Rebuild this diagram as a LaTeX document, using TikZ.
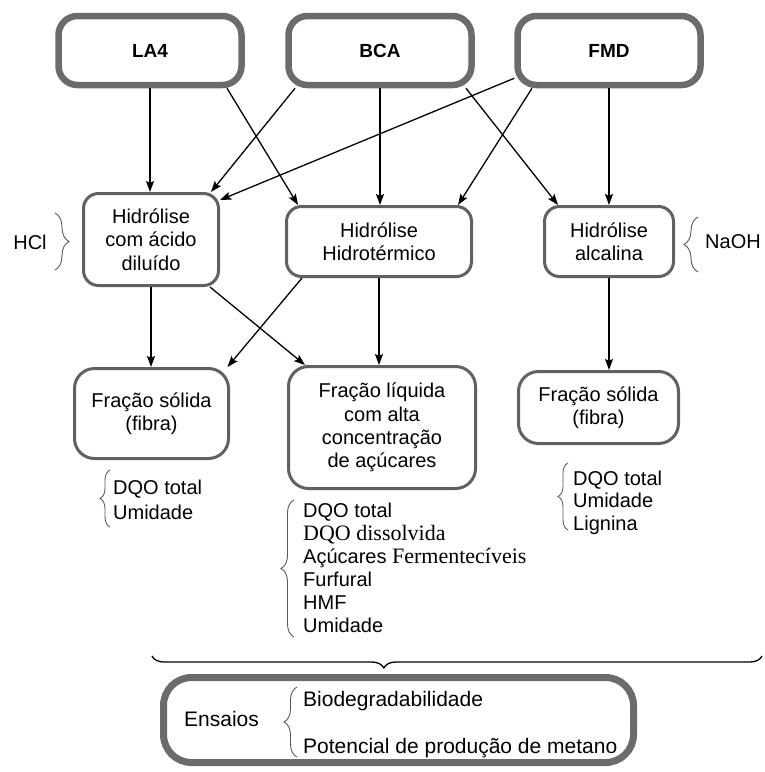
\documentclass[tikz,border=0pt]{standalone}
\usepackage{fontspec}
\setmainfont{Liberation Sans}
\newfontfamily\serifa{Liberation Serif}
\usetikzlibrary{arrows.meta,decorations.pathreplacing}

\tikzset{
  fonte/.style={draw=black!58, line width=6.5pt, fill=white, rounded corners=19pt,
    minimum width=183pt, minimum height=69pt, inner sep=0pt,
    font=\bfseries\fontsize{19}{22}\selectfont},
  etapa/.style={draw=black!62, line width=3pt, fill=white, rounded corners=15pt,
    align=center, inner sep=0pt, font=\fontsize{20}{23.3}\selectfont},
  seta/.style={-{Stealth[length=11pt,width=8pt,inset=2pt]}, line width=1.3pt},
  chave/.style={decorate, decoration={brace, amplitude=#1}, draw=black!65, line width=0.9pt},
  lista/.style={align=left, anchor=west, inner sep=0pt, font=\fontsize{20}{#1}\selectfont},
  rotulo/.style={inner sep=0pt, font=\fontsize{20}{23}\selectfont}
}

\begin{document}
\begin{tikzpicture}[x=1pt,y=-1pt]
\useasboundingbox (0,0) rectangle (764,772);

\node[fonte] (la4) at (150,50.5) {LA4};
\node[fonte] (bca) at (380,50.5) {BCA};
\node[fonte] (fmd) at (609,50.5) {FMD};

\node[etapa, minimum width=135pt, minimum height=92pt] (acido) at (151,239.5) {Hidrólise\\com ácido\\diluído};
\node[etapa, minimum width=185pt, minimum height=70pt] (hidro) at (379,241.5) {Hidrólise\\Hidrotérmico};
\node[etapa, minimum width=129pt, minimum height=70pt] (alca) at (609,241.5) {Hidrólise\\alcalina};

\node[etapa, minimum width=154pt, minimum height=90pt, rounded corners=20pt] (solido1) at (151.5,413.5) {Fração sólida\\(fibra)};
\node[etapa, minimum width=187pt, minimum height=122pt, rounded corners=20pt] (liquido) at (382,427.5) {Fração líquida\\com alta\\concentração\\de açúcares};
\node[etapa, minimum width=160pt, minimum height=72pt, rounded corners=20pt] (solido2) at (598.5,407.5) {Fração sólida\\(fibra)};

\node[rotulo] (hcl) at (30,242) {HCl};
\node[rotulo] (naoh) at (733,242) {NaOH};
\draw[chave=14pt] (55,213) -- (55,270);
\draw[chave=14pt] (698,272) -- (698,217);

\draw[seta] (la4.south) -- (la4.south |- acido.north);
\draw[seta] ([xshift=77pt]la4.south) -- ([xshift=-81pt]hidro.north);
\draw[seta] ([xshift=-85pt]bca.south) -- ([xshift=60pt]acido.north);
\draw[seta] (bca.south) -- (bca.south |- hidro.north);
\draw[seta] ([xshift=86pt]bca.south) -- ([xshift=-51pt]alca.north);
\draw[seta] ([yshift=10pt]fmd.south west) -- ([yshift=-8pt]acido.north east);
\draw[seta] ([xshift=-77pt]fmd.south) -- ([xshift=79pt]hidro.north);
\draw[seta] (fmd.south) -- (fmd.south |- alca.north);

\draw[seta] (acido.south) -- (acido.south |- solido1.north);
\draw[seta] ([xshift=59pt]acido.south) -- ([xshift=-77pt]liquido.north);
\draw[seta] ([xshift=-77pt]hidro.south) -- ([xshift=76pt]solido1.north);
\draw[seta] (hidro.south) -- (hidro.south |- liquido.north);
\draw[seta] (alca.south) -- (alca.south |- solido2.north);

\node[lista=25] (medida1) at (113,499.5) {DQO total\\Umidade};
\draw[chave=10pt] (110,527) -- (110,470);
\node[lista=23] (medida2) at (303,567.5) {DQO total\\{\serifa\fontsize{22}{23}\selectfont DQO dissolvida}\\Açúcares {\serifa\fontsize{22}{23}\selectfont Fermentecíveis}\\Furfural\\HMF\\Umidade};
\draw[chave=13pt] (294,637) -- (294,500);
\node[lista=22.5] (medida3) at (573,502.5) {DQO total\\Umidade\\Lignina};
\draw[chave=10pt] (568,530) -- (568,463);

\draw[decorate, decoration={brace, amplitude=12pt, aspect=0.62}, line width=1.3pt] (762,656) -- (152,656);

\node[fonte, minimum width=470pt, minimum height=85pt, rounded corners=28pt, line width=7pt] (ensaio) at (398.5,720) {};
\node[rotulo, font=\fontsize{21}{24}\selectfont] (ens) at (221.5,719) {Ensaios};
\draw[chave=13pt] (297,757) -- (297,687);
\node[lista=24, anchor=base west, font=\fontsize{21}{24}\selectfont] (bio) at (303,706.5) {Biodegradabilidade};
\node[lista=24, anchor=base west, font=\fontsize{21}{24}\selectfont] (pot) at (303,753.5) {Potencial de produção de metano};
\end{tikzpicture}
\end{document}
